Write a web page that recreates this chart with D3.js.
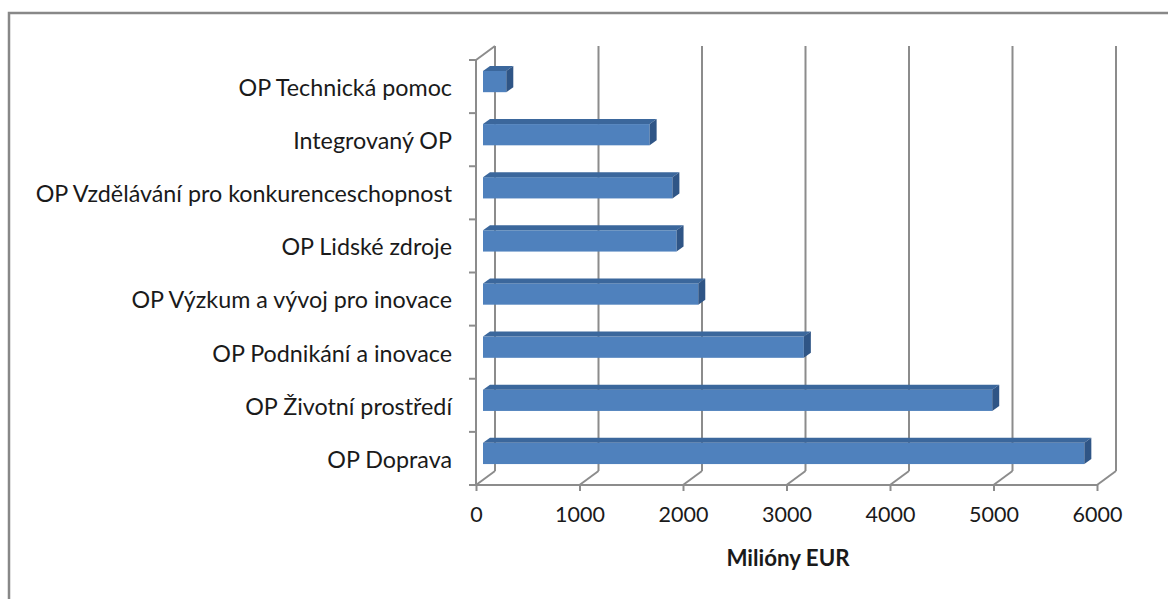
<!DOCTYPE html>
<html>
<head>
<meta charset="utf-8">
<script src="https://cdnjs.cloudflare.com/ajax/libs/d3/7.8.5/d3.min.js"></script>
<style>
  body { margin: 0; background: #fff; }
  svg text { font-family: Lato, "Open Sans", sans-serif; fill: #1a1a1a; }
</style>
</head>
<body>
<div id="chart"></div>
<script>
// data, top to bottom as in the chart
var categories = ["OP Technická pomoc", "Integrovaný OP", "OP Vzdělávání pro konkurenceschopnost",
  "OP Lidské zdroje", "OP Výzkum a vývoj pro inovace", "OP Podnikání a inovace",
  "OP Životní prostředí", "OP Doprava"];
var values = [225, 1610, 1830, 1870, 2080, 3100, 4920, 5810];
var tickValues = [0, 1000, 2000, 3000, 4000, 5000, 6000];
var axisTitle = "Milióny EUR";

var W = 1168, H = 599;
var depth = {dx: 19, dy: -14};   // wall depth
var barOff = {dx: 7, dy: -5};    // bar front sits this far back
var barDepth = {dx: 7, dy: -5};

var svg = d3.select("#chart").append("svg").attr("width", W).attr("height", H);

// outer border (only top/left visible)
svg.append("rect").attr("x", 9).attr("y", 13).attr("width", 1200).attr("height", 650)
  .attr("fill", "none").attr("stroke", "#888").attr("stroke-width", 2.5);

var x = d3.scaleLinear().domain([0, 6000]).range([476, 1097]);
var y = d3.scaleBand().domain(categories).range([60, 485]).paddingInner(0.6).paddingOuter(0.3);
var yTop = 60, yBot = 485;
var grid = "#8c8c8c";

var g = svg.append("g");

// back wall gridlines
g.selectAll(".grid").data(tickValues).enter().append("line")
  .attr("x1", d => x(d) + depth.dx).attr("x2", d => x(d) + depth.dx)
  .attr("y1", yTop + depth.dy).attr("y2", yBot + depth.dy)
  .attr("stroke", grid).attr("stroke-width", 2);

// floor diagonals
g.selectAll(".floor").data(tickValues).enter().append("line")
  .attr("x1", d => x(d)).attr("y1", yBot)
  .attr("x2", d => x(d) + depth.dx).attr("y2", yBot + depth.dy)
  .attr("stroke", grid).attr("stroke-width", 2);

// left wall top diagonal
g.append("line").attr("x1", x(0)).attr("y1", yTop)
  .attr("x2", x(0) + depth.dx).attr("y2", yTop + depth.dy)
  .attr("stroke", grid).attr("stroke-width", 2);

// front axes
var xAxis = d3.axisBottom(x).tickValues(tickValues).tickFormat(d3.format("d")).tickSize(6).tickPadding(16);
var xa = svg.append("g").attr("transform", "translate(0," + yBot + ")").call(xAxis);
xa.select(".domain").attr("stroke", grid).attr("stroke-width", 2).attr("d", "M" + x(0) + ",0H" + x(6000));
xa.selectAll(".tick line").attr("stroke", grid).attr("stroke-width", 2);
xa.selectAll(".tick text").attr("font-size", 21.5).attr("font-family", "Lato").attr("fill", "#1a1a1a");

var yAxis = d3.axisLeft(y).tickSize(0).tickPadding(24);
var ya = svg.append("g").attr("transform", "translate(" + x(0) + ",0)").call(yAxis);
ya.select(".domain").attr("stroke", grid).attr("stroke-width", 2).attr("d", "M0," + yTop + "V" + yBot);
ya.selectAll(".tick text").attr("font-size", 23.3).attr("font-family", "Lato").attr("fill", "#1a1a1a")
  .attr("dy", "0.4em");

// category boundary ticks
var bounds = d3.range(categories.length + 1).map(i => yTop + i * y.step());
ya.selectAll(".bt").data(bounds).enter().append("line")
  .attr("x1", -7).attr("x2", 0).attr("y1", d => d).attr("y2", d => d)
  .attr("stroke", grid).attr("stroke-width", 2);

// 3D bars
var bars = svg.append("g").selectAll("g").data(values).enter().append("g");
function bx0() { return x(0) + barOff.dx; }
function by0(d, i) { return y(categories[i]) + barOff.dy; }
var h = y.bandwidth();

bars.append("rect")
  .attr("x", bx0).attr("y", by0)
  .attr("width", d => x(d) - x(0)).attr("height", h)
  .attr("fill", "#4f81bd");
bars.append("path").attr("fill", "#3b679c")
  .attr("d", (d, i) => {
    var x0 = bx0(), x1 = bx0() + x(d) - x(0), y0 = by0(d, i);
    return "M" + x0 + "," + y0 + "L" + x1 + "," + y0 + "L" + (x1 + barDepth.dx) + "," + (y0 + barDepth.dy) +
      "L" + (x0 + barDepth.dx) + "," + (y0 + barDepth.dy) + "Z";
  });
bars.append("path").attr("fill", "#2f5586")
  .attr("d", (d, i) => {
    var x1 = bx0() + x(d) - x(0), y0 = by0(d, i);
    return "M" + x1 + "," + y0 + "L" + (x1 + barDepth.dx) + "," + (y0 + barDepth.dy) +
      "L" + (x1 + barDepth.dx) + "," + (y0 + barDepth.dy + h) + "L" + x1 + "," + (y0 + h) + "Z";
  });

// axis title
svg.append("text").attr("x", 788).attr("y", 566).attr("text-anchor", "middle")
  .attr("font-size", 22.3).attr("font-weight", "bold").text(axisTitle);
</script>
</body>
</html>
